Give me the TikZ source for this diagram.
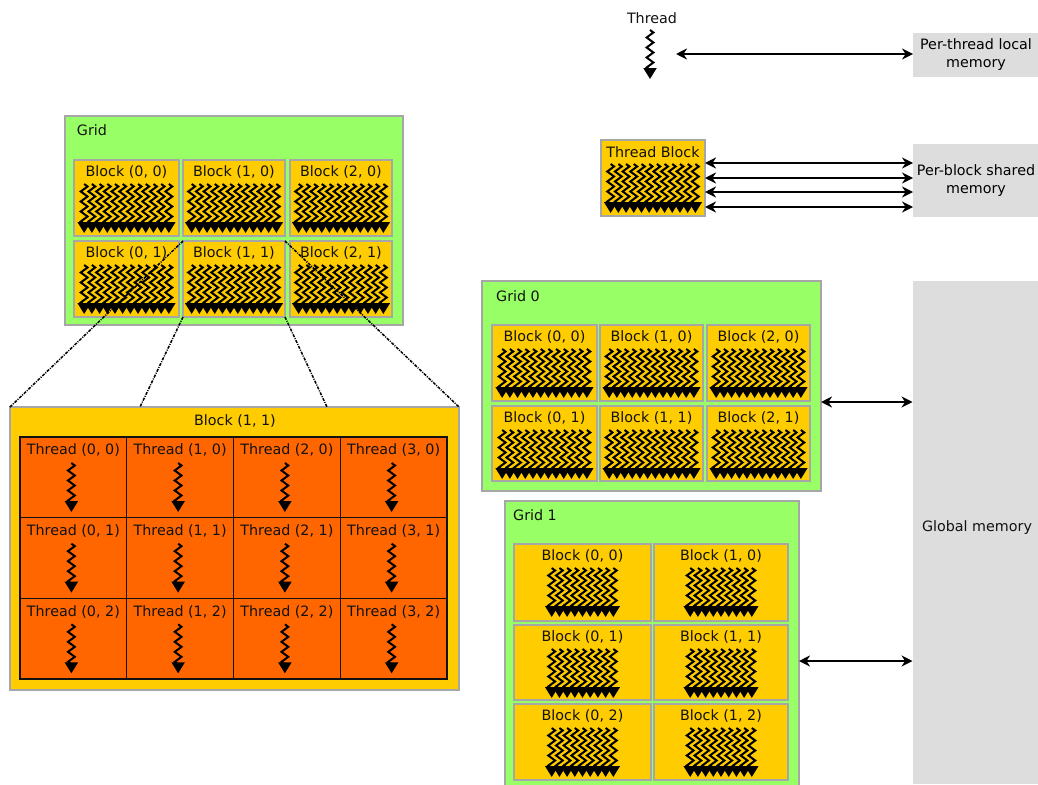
\documentclass[tikz,border=0pt]{standalone}
\usepackage{fontspec}
\setmainfont{DejaVu Sans}
\usetikzlibrary{calc,arrows.meta,decorations.pathmorphing}
\definecolor{gridgreen}{HTML}{99FF66}
\definecolor{blockyellow}{HTML}{FFCC00}
\definecolor{threadorange}{HTML}{FF6600}
\definecolor{memgray}{HTML}{DDDDDD}
\definecolor{edgegray}{HTML}{A6A6A6}
\definecolor{ink}{HTML}{111111}
\newcommand{\CellW}{106.75}
\newcommand{\CellH}{80.67}
\tikzset{
  wiggle/.style={line width=2pt, decorate, decoration={zigzag, amplitude=3.4pt, segment length=10pt, post length=6pt}, -{Triangle[length=11pt,width=13pt]}},
  pics/threadwiggle/.style={code={\draw[wiggle] (0,0) -- (0,#1);}},
  pics/threadpile/.style={code={\foreach \c in {1,...,#1} {\draw[wiggle] (\c*7.7,0) -- (\c*7.7,49);}}},
  framebox/.style={draw=edgegray, line width=1.2pt, fill=gridgreen, inner sep=0pt, outer sep=0pt},
  blockbox/.style={framebox, fill=blockyellow},
  cellbox/.style={fill=threadorange, inner sep=0pt, outer sep=0pt, minimum width=\CellW pt, minimum height=\CellH pt},
  celledge/.style={draw=ink, line width=1.1pt},
  membox/.style={fill=memgray, inner sep=0pt, outer sep=0pt, align=center, font=\fontsize{14.3}{18}\selectfont},
  tag/.style={inner sep=0pt, text=ink, font=\fontsize{14.3}{15}\selectfont},
  biarrow/.style={line width=2.2pt, {Stealth[length=11pt,width=11pt]}-{Stealth[length=11pt,width=11pt]}},
  zoomline/.style={line width=1.5pt, dash pattern=on 3pt off 1.2pt on 1pt off 1.2pt}
}
% name, left, top, right, bottom, label, columns in the pile
\newcommand{\blockcell}[7]{
  \node[blockbox, minimum width=#4 pt-#2 pt, minimum height=#5 pt-#3 pt] (#1) at ({(#2+#4)/2},{(#3+#5)/2}) {};
  \node[tag] (#1t) at ($(#1.north)+(0,12)$) {#6};
  \pic at ($(#1.north)+({-(#7+1)*3.85},24)$) {threadpile=#7};
}
\begin{document}
\begin{tikzpicture}[x=1pt,y=-1pt]
\useasboundingbox (0,0) rectangle (1038,784);
\fill[white] (0,0) rectangle (1038,784);
% ---- MEMORY COLUMN
\node[membox, minimum width=126pt, minimum height=44pt] (threadmem) at (976,55) {Per-thread local\\memory};
\node[membox, minimum width=126pt, minimum height=73pt] (blockmem) at (976,180.5) {Per-block shared\\memory};
\node[membox, minimum width=126pt, minimum height=503pt] (globalmem) at (975.5,532.5) {};
\node[tag] (globaltag) at (977,528) {Global memory};
% ---- SINGLE THREAD
\node[tag] (threadtag) at (652,18) {Thread};
\pic at (650,30) {threadwiggle=49};
\coordinate (threadend) at (676,54);
\draw[biarrow] (threadend) -- (threadmem.west |- threadend);
% ---- THREAD BLOCK
\blockcell{tblock}{601}{140}{705}{216}{Thread Block}{12}
\foreach \y in {163,178,192,207} {
  \draw[biarrow] (tblock.east |- 0,\y) -- (blockmem.west |- 0,\y);
}
% ---- GRID WITH ZOOMED BLOCK
\node[framebox, minimum width=338pt, minimum height=209pt] (grid) at (234,220.5) {};
\node[tag] (gridtag) at (92,130) {Grid};
\blockcell{a00}{74}{160}{179}{236}{Block (0, 0)}{12}
\blockcell{a10}{183}{160}{285}{236}{Block (1, 0)}{12}
\blockcell{a20}{290}{160}{392}{236}{Block (2, 0)}{12}
\blockcell{a01}{74}{241}{179}{317}{Block (0, 1)}{12}
\blockcell{a11}{183}{241}{285}{317}{Block (1, 1)}{12}
\blockcell{a21}{290}{241}{392}{317}{Block (2, 1)}{12}
\node[blockbox, minimum width=449pt, minimum height=283pt] (zoomblock) at (234.5,548.5) {};
\node[tag] (zoomtag) at (235,421) {Block (1, 1)};
\foreach \i in {0,1,2,3} {
  \foreach \j in {0,1,2} {
    \node[cellbox] (t\i\j) at ({20+(\i+0.5)*\CellW},{437+(\j+0.5)*\CellH}) {};
    \node[tag] (t\i\j t) at ($(t\i\j.north)+(0,13.5)$) {Thread (\i, \j)};
    \pic at ($(t\i\j.north)+(-2,26)$) {threadwiggle=49};
  }
}
% ---- table rules over the thread cells
\draw[celledge] (t00.north west) rectangle (t32.south east);
\foreach \i in {0,1,2} { \draw[celledge] (t\i0.north east) -- (t\i2.south east); }
\foreach \j in {0,1} { \draw[celledge] (t0\j.south west) -- (t3\j.south east); }
% ---- dashed lines from the corners of block (1, 1)
\draw[zoomline] (a11.north west) -- (zoomblock.north west);
\draw[zoomline] (a11.south west) -- (140,407);
\draw[zoomline] (a11.south east) -- (327,407);
\draw[zoomline] (a11.north east) -- (zoomblock.north east);
% ---- GRID 0
\node[framebox, minimum width=339pt, minimum height=210pt] (grid0) at (651.5,386) {};
\node[tag] (grid0tag) at (518,296) {Grid 0};
\blockcell{b00}{492}{325}{597}{401}{Block (0, 0)}{12}
\blockcell{b10}{600}{325}{703}{401}{Block (1, 0)}{12}
\blockcell{b20}{707}{325}{810}{401}{Block (2, 0)}{12}
\blockcell{b01}{492}{406}{597}{481}{Block (0, 1)}{12}
\blockcell{b11}{600}{406}{703}{481}{Block (1, 1)}{12}
\blockcell{b21}{707}{406}{810}{481}{Block (2, 1)}{12}
\draw[biarrow] (grid0.east |- 0,402) -- (globalmem.west |- 0,402);
% ---- GRID 1
\node[framebox, minimum width=294pt, minimum height=290pt] (grid1) at (652,646) {};
\node[tag] (grid1tag) at (535,515) {Grid 1};
\blockcell{c00}{514}{544}{651}{621}{Block (0, 0)}{9}
\blockcell{c10}{654}{544}{788}{621}{Block (1, 0)}{9}
\blockcell{c01}{514}{625}{651}{700}{Block (0, 1)}{9}
\blockcell{c11}{654}{625}{788}{700}{Block (1, 1)}{9}
\blockcell{c02}{514}{704}{651}{780}{Block (0, 2)}{9}
\blockcell{c12}{654}{704}{788}{780}{Block (1, 2)}{9}
\draw[biarrow] (grid1.east |- 0,661) -- (globalmem.west |- 0,661);
\end{tikzpicture}
\end{document}
